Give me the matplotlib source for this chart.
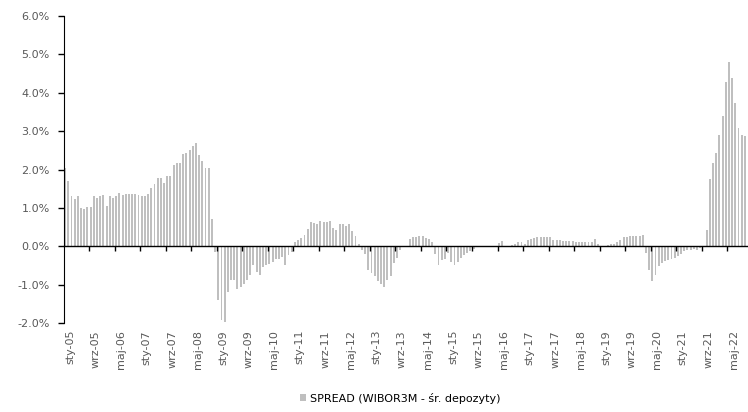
import numpy as np
import matplotlib
matplotlib.use('Agg')
import matplotlib.pyplot as plt
import matplotlib.transforms as mtransforms

# spread WIBOR3M - avg deposit rate, monthly, in %
y2005 = [2.04, 1.71, 1.32, 1.22, 1.30, 1.00, 0.96, 1.03, 1.01, 1.30, 1.25, 1.30]
y2006 = [1.33, 1.06, 1.32, 1.27, 1.32, 1.39, 1.33, 1.37, 1.37, 1.37, 1.37, 1.34]
y2007 = [1.30, 1.32, 1.36, 1.52, 1.61, 1.77, 1.77, 1.65, 1.84, 1.84, 2.13, 2.16]
y2008 = [2.18, 2.40, 2.43, 2.52, 2.60, 2.68, 2.38, 2.22, 2.04, 2.04, 0.72, -0.15]
y2009 = [-1.40, -1.92, -1.97, -1.19, -0.88, -0.88, -1.12, -1.06, -0.99, -0.88, -0.75, -0.49]
y2010 = [-0.67, -0.75, -0.54, -0.48, -0.45, -0.41, -0.34, -0.32, -0.28, -0.49, -0.23, -0.15]
y2011 = [0.11, 0.17, 0.22, 0.30, 0.46, 0.63, 0.61, 0.57, 0.67, 0.63, 0.63, 0.67]
y2012 = [0.48, 0.43, 0.58, 0.58, 0.52, 0.58, 0.39, 0.28, 0.06, -0.09, -0.20, -0.61]
y2013 = [-0.70, -0.78, -0.91, -0.99, -1.07, -0.87, -0.78, -0.43, -0.30, -0.09, 0.0, 0.0]
y2014 = [0.19, 0.23, 0.25, 0.27, 0.27, 0.22, 0.18, 0.10, -0.20, -0.50, -0.37, -0.32]
y2015 = [-0.18, -0.40, -0.50, -0.40, -0.30, -0.22, -0.17, -0.12, -0.06, -0.02, 0.0, 0.0]
y2016 = [0.0, 0.0, 0.0, 0.0, 0.08, 0.14, 0.0, 0.0, 0.03, 0.06, 0.10, 0.10]
y2017 = [0.07, 0.16, 0.19, 0.22, 0.24, 0.24, 0.24, 0.23, 0.24, 0.17, 0.17, 0.17]
y2018 = [0.14, 0.14, 0.14, 0.13, 0.11, 0.11, 0.11, 0.12, 0.11, 0.10, 0.18, 0.06]
y2019 = [0.0, 0.01, 0.03, 0.06, 0.07, 0.11, 0.17, 0.24, 0.24, 0.27, 0.27, 0.26]
y2020 = [0.26, 0.30, -0.17, -0.61, -0.91, -0.74, -0.52, -0.43, -0.39, -0.35, -0.33, -0.30]
y2021 = [-0.26, -0.19, -0.13, -0.11, -0.09, -0.07, -0.09, -0.05, 0.0, 0.43, 1.74, 2.17]
y2022 = [2.43, 2.91, 3.39, 4.28, 4.80, 4.39, 3.74, 3.09, 2.91, 2.87]

months_pl = ['sty', 'lut', 'mar', 'kwi', 'maj', 'cze', 'lip', 'sie', 'wrz', 'paź', 'lis', 'gru']
start_year = 2005
label_step = 8

spread = (y2005 + y2006 + y2007 + y2008 + y2009 + y2010 + y2011 + y2012 + y2013
          + y2014 + y2015 + y2016 + y2017 + y2018 + y2019 + y2020 + y2021 + y2022)
n = len(spread)
idx = np.arange(n)
labels = ['%s-%02d' % (months_pl[i % 12], (start_year + i // 12) % 100) for i in idx]

text_col = '#595959'
bar_col = '#bfbfbf'

plt.rcParams['font.family'] = ['DejaVu Sans']
fig = plt.figure(figsize=(7.48, 4.12), dpi=100)
ax = fig.add_axes([63.5 / 748, 1 - 323 / 412, 683 / 748, 307 / 412])

bars = ax.bar(idx, spread, width=0.6, color=bar_col, linewidth=0,
              label='SPREAD (WIBOR3M - śr. depozyty)')

ax.set_xlim(-0.5, n - 0.5)
ax.set_ylim(-2, 6)
ax.set_yticks(np.arange(-2, 7, 1))
ax.set_yticklabels(['%.1f%%' % v for v in np.arange(-2, 7, 1)])
ax.tick_params(axis='y', direction='out', length=4, width=1, colors='black',
               labelcolor=text_col, labelsize=8, pad=6)

for s in ['top', 'right']:
    ax.spines[s].set_visible(False)
ax.spines['left'].set_color('black')
ax.spines['bottom'].set_position(('data', 0))
ax.spines['bottom'].set_color('black')
ax.spines['bottom'].set_linewidth(1.0)

# tick marks between categories on the zero line
ax.set_xticks(np.arange(label_step - 0.5, n, label_step))
ax.set_xticklabels([])
ax.tick_params(axis='x', direction='out', length=3.5, width=1, colors='black')

# category labels at the bottom of the plot area
sec = ax.secondary_xaxis('bottom')
sec.set_xticks(idx[::label_step])
sec.set_xticklabels(labels[::label_step], rotation=90)
sec.tick_params(length=0, labelsize=8, labelcolor=text_col, pad=5)
sec.spines['bottom'].set_visible(False)
offset = mtransforms.ScaledTranslation(5 / 100, 0, fig.dpi_scale_trans)
for lab in sec.get_xticklabels():
    lab.set_transform(lab.get_transform() + offset)

leg = fig.legend(handles=[bars], loc='center', bbox_to_anchor=(400 / 748, 1 - 398 / 412),
                 frameon=False, fontsize=8, handlelength=0.6, handleheight=0.6,
                 handletextpad=0.3, labelcolor='black')

fig.savefig('out.png', dpi=100)
